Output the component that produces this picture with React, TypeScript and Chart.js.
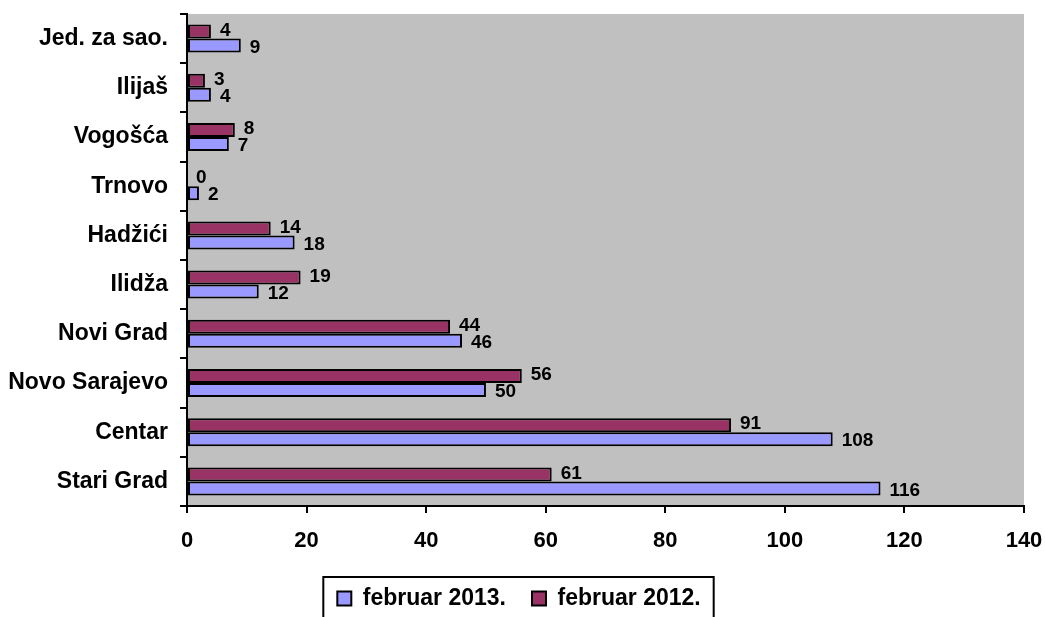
import { useEffect, useRef } from 'react';
import { Chart, registerables, Plugin } from 'chart.js';

Chart.register(...registerables);

// Data
const municipalities = [
  'Jed. za sao.',
  'Ilijaš',
  'Vogošća',
  'Trnovo',
  'Hadžići',
  'Ilidža',
  'Novi Grad',
  'Novo Sarajevo',
  'Centar',
  'Stari Grad',
];
const feb2013 = [9, 4, 7, 2, 18, 12, 46, 50, 108, 116];
const feb2012 = [4, 3, 8, 0, 14, 19, 44, 56, 91, 61];
const xTicks = [0, 20, 40, 60, 80, 100, 120, 140];

const FONT = '"Liberation Sans", Arial, sans-serif';

// Grey plot area like the Excel original
const plotBackground: Plugin<'bar'> = {
  id: 'plotBackground',
  beforeDraw(chart) {
    const { ctx, chartArea } = chart;
    ctx.save();
    ctx.fillStyle = '#C0C0C0';
    ctx.fillRect(chartArea.left, chartArea.top, chartArea.right - chartArea.left, chartArea.bottom - chartArea.top);
    ctx.restore();
  },
};

// Value labels to the right of each bar
const valueLabels: Plugin<'bar'> = {
  id: 'valueLabels',
  afterDatasetsDraw(chart) {
    const { ctx } = chart;
    ctx.save();
    ctx.font = `bold 19px ${FONT}`;
    ctx.fillStyle = '#000';
    ctx.textAlign = 'left';
    ctx.textBaseline = 'middle';
    chart.data.datasets.forEach((ds, di) => {
      const meta = chart.getDatasetMeta(di);
      const dy = di === 0 ? -1 : 2;
      meta.data.forEach((el, i) => {
        const v = ds.data[i] as number;
        ctx.fillText(String(v), el.x + 9, el.y + dy);
      });
    });
    ctx.restore();
  },
};

// Nudge the legend a little to the right, then frame it
const legendFrame: Plugin<'bar'> = {
  id: 'legendFrame',
  afterUpdate(chart) {
    const legend: any = chart.legend;
    if (!legend) return;
    legend.left += 7;
    legend.right += 7;
    (legend.legendHitBoxes || []).forEach((b: any) => {
      b.left += 7;
    });
  },
  afterDraw(chart) {
    const legend: any = chart.legend;
    if (!legend || !legend.legendHitBoxes || legend.legendHitBoxes.length === 0) return;
    const boxes = legend.legendHitBoxes;
    const left = Math.min(...boxes.map((b: any) => b.left)) - 14;
    const right = Math.max(...boxes.map((b: any) => b.left + b.width)) + 13;
    const top = Math.min(...boxes.map((b: any) => b.top)) - 10;
    const { ctx } = chart;
    ctx.save();
    ctx.strokeStyle = '#000';
    ctx.lineWidth = 2;
    ctx.strokeRect(left, top, right - left, chart.height - top + 10);
    ctx.restore();
  },
};

export default function App() {
  const canvasRef = useRef<HTMLCanvasElement>(null);

  useEffect(() => {
    if (!canvasRef.current) return;
    const chart = new Chart(canvasRef.current, {
      type: 'bar',
      data: {
        labels: municipalities,
        datasets: [
          {
            label: 'februar 2012.',
            data: feb2012,
            backgroundColor: '#993366',
            borderColor: '#000',
            borderWidth: 2,
            borderSkipped: false,
            categoryPercentage: 0.57,
            barPercentage: 1.0,
          },
          {
            label: 'februar 2013.',
            data: feb2013,
            backgroundColor: '#9999FF',
            borderColor: '#000',
            borderWidth: 2,
            borderSkipped: false,
            categoryPercentage: 0.57,
            barPercentage: 1.0,
          },
        ],
      },
      options: {
        indexAxis: 'y',
        responsive: true,
        maintainAspectRatio: false,
        animation: false,
        layout: { padding: { top: 14, right: 21, left: 0, bottom: 0 } },
        plugins: {
          tooltip: { enabled: false },
          legend: {
            position: 'bottom',
            reverse: true,
            labels: {
              boxWidth: 14,
              boxHeight: 14,
              padding: 26,
              color: '#000',
              font: { family: FONT, size: 23, weight: 'bold' },
            },
          },
        },
        scales: {
          x: {
            min: 0,
            max: 140,
            afterBuildTicks(scale) {
              scale.ticks = xTicks.map((v) => ({ value: v }));
            },
            afterFit(scale: any) {
              scale.height = 55;
              scale.paddingLeft = 0;
              scale.paddingRight = 0;
            },
            grid: {
              drawOnChartArea: false,
              drawTicks: true,
              tickLength: 7,
              color: '#000',
              lineWidth: 2,
            },
            border: { display: true, color: '#000', width: 2 },
            ticks: {
              color: '#000',
              padding: 15,
              font: { family: FONT, size: 22, weight: 'bold' },
            },
          },
          y: {
            afterFit(scale: any) {
              scale.width = 187;
              scale.paddingTop = 0;
              scale.paddingBottom = 0;
            },
            grid: {
              offset: true,
              drawOnChartArea: false,
              drawTicks: true,
              tickLength: 7,
              color: '#000',
              lineWidth: 2,
            },
            border: { display: true, color: '#000', width: 2 },
            ticks: {
              color: '#000',
              padding: 12,
              font: { family: FONT, size: 23, weight: 'bold' },
            },
          },
        },
      },
      plugins: [plotBackground, valueLabels, legendFrame],
    });
    return () => chart.destroy();
  }, []);

  return (
    <div style={{ position: 'fixed', top: 0, left: 0, width: 1045, height: 617, overflow: 'hidden', background: '#fff' }}>
      <div style={{ position: 'relative', width: 1045, height: 620 }}>
        <canvas ref={canvasRef}></canvas>
      </div>
    </div>
  );
}
